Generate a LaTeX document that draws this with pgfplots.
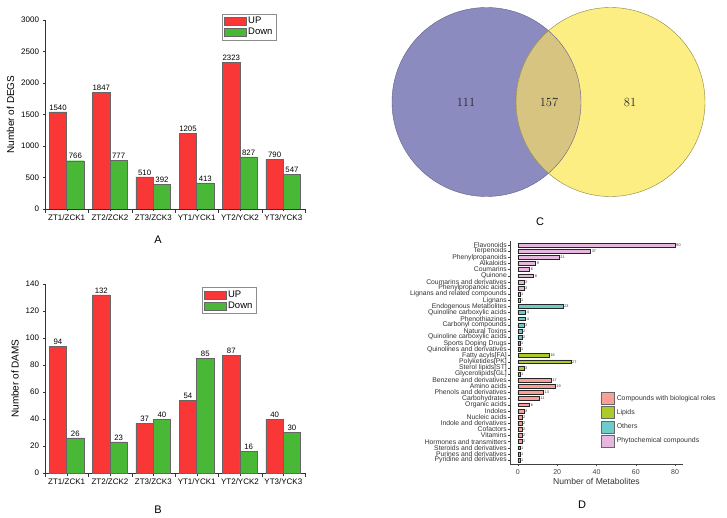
\documentclass[border=0pt]{standalone}
\usepackage{fontspec}
\setsansfont{Liberation Sans}
\renewcommand{\familydefault}{\sfdefault}
\usepackage{pgfplots}
\pgfplotsset{compat=1.18}
\pgfkeys{/pgf/number format/.cd,1000 sep={},assume math mode=true}

\definecolor{upred}{RGB}{250,55,55}
\definecolor{downgreen}{RGB}{72,184,54}
\definecolor{vennL}{RGB}{139,139,192}
\definecolor{vennR}{RGB}{252,238,130}
\definecolor{vennM}{RGB}{214,196,128}
\definecolor{phyto}{RGB}{230,184,224}
\definecolor{others}{RGB}{108,204,202}
\definecolor{lipids}{RGB}{172,202,40}
\definecolor{bio}{RGB}{250,160,150}

% shared look of panels A and B (Origin style)
\pgfplotsset{
  pairbars/.style={
    scale only axis, width=260pt, height=189pt, anchor=south west,
    axis x line*=bottom, axis y line*=left, axis line style={-,black!80},
    xmin=-0.5, xmax=5.5, ymin=0,
    xtick={0,...,5},
    xticklabels={ZT1/ZCK1,ZT2/ZCK2,ZT3/ZCK3,YT1/YCK1,YT2/YCK2,YT3/YCK3},
    extra x ticks={-0.5,0.5,1.5,2.5,3.5,4.5,5.5},
    extra x tick labels={},
    extra x tick style={major tick length=4pt},
    major tick length=2.5pt, tick align=outside, tick style={black!80},
    ticklabel style={font=\fontsize{8}{9}\selectfont},
    ylabel style={font=\fontsize{10}{12}\selectfont},
    ybar, bar width=0.4,
    nodes near coords, point meta=y,
    every node near coord/.append style={font=\fontsize{7.8}{9}\selectfont, inner sep=1.5pt},
    legend cell align=left,
    legend image code/.code={\draw[##1] (0pt,-4pt) rectangle (22pt,4pt);},
    legend style={draw=black!45, font=\fontsize{9.5}{10}\selectfont, inner sep=1.5pt, row sep=-1pt, anchor=north west},
  },
  upbar/.style={fill=upred, draw=black!60, bar shift=-0.2},
  downbar/.style={fill=downgreen, draw=black!60, bar shift=0.2},
  metbar/.style={fill=#1, draw=black!85, line width=0.5pt},
}

\begin{document}
\begin{tikzpicture}
\useasboundingbox (0pt,0pt) rectangle (727pt,517pt);
\fill[white] (0pt,0pt) rectangle (727pt,517pt);

% ---- A
\begin{axis}[pairbars, at={(45pt,308pt)}, ymax=3000, ytick={0,500,...,3000},
  ylabel={Number of DEGS}, legend style={at={(0.681,1.034)}}]
\addplot[upbar] coordinates {(0,1540)(1,1847)(2,510)(3,1205)(4,2323)(5,790)};
\addplot[downbar] coordinates {(0,766)(1,777)(2,392)(3,413)(4,827)(5,547)};
\legend{UP,Down}
\end{axis}

% ---- B
\begin{axis}[pairbars, at={(45pt,44pt)}, ymax=140, ytick={0,20,...,140},
  ylabel={Number of DAMS}, legend style={at={(0.604,0.984)}}]
\addplot[upbar] coordinates {(0,94)(1,132)(2,37)(3,54)(4,87)(5,40)};
\addplot[downbar] coordinates {(0,26)(1,23)(2,40)(3,85)(4,16)(5,30)};
\legend{UP,Down}
\end{axis}

% ---- C (Venn)
\begin{axis}[scale only axis, width=320pt, height=195pt, anchor=south west, at={(390pt,317pt)},
  xmin=390, xmax=710, ymin=317, ymax=512, hide axis, clip=false]
\fill[vennL] (axis cs:486.5,415) circle[radius=94.5pt];
\fill[vennR] (axis cs:610.5,415) circle[radius=94.5pt];
\begin{scope}
\clip (axis cs:486.5,415) circle[radius=94.5pt];
\fill[vennM] (axis cs:610.5,415) circle[radius=94.5pt];
\end{scope}
\draw[vennL!70!black, line width=0.4pt] (axis cs:486.5,415) circle[radius=94.5pt];
\draw[vennR!55!black, line width=0.4pt] (axis cs:610.5,415) circle[radius=94.5pt];
\addplot[draw=none, mark=none, nodes near coords, point meta=explicit symbolic,
  every node near coord/.append style={anchor=center, font=\rmfamily\fontsize{12.5}{14}\selectfont, text=black!85}]
  coordinates {(466,415)[111] (549,415)[157] (630,415)[81]};
\end{axis}

% ---- D
\begin{axis}[scale only axis, width=173pt, height=222.4pt, anchor=south west, at={(510pt,53.3pt)},
  axis x line*=bottom, axis y line*=left, axis line style={-,black!75},
  xmin=-4, xmax=84, ymin=-0.6, ymax=35.6, y dir=reverse,
  xtick={0,20,...,80}, ytick={0,...,35},
  yticklabels={{Flavonoids},{Terpenoids},{Phenylpropanoids},{Alkaloids},{Coumarins},{Quinone},
    {Coumarins and derivatives},{Phenylpropanoic acids},{Lignans and related compounds},{Lignans},
    {Endogenous Metabolites},{Quinoline carboxylic acids},{Phenothiazines},{Carbonyl compounds},
    {Natural Toxins},{Quinoline carboxylic acids},{Sports Doping Drugs},{Quinolines and derivatives},
    {Fatty acyls[FA]},{Polyketides[PK]},{Sterol lipids[ST]},{Glycerolipids[GL]},
    {Benzene and derivatives},{Amino acids},{Phenols and derivatives},{Carbohydrates},{Organic acids},
    {Indoles},{Nucleic acids},{Indole and derivatives},{Cofactors},{Vitamins},
    {Hormones and transmitters},{Steroids and derivatives},{Purines and derivatives},{Pyridine and derivatives}},
  tick align=outside, major tick length=2pt, tick style={black!75},
  yticklabel style={font=\fontsize{6.8}{6.8}\selectfont, inner sep=1pt, text=black!80},
  xticklabel style={font=\fontsize{7}{8}\selectfont, text=black!75},
  xlabel={Number of Metabolites}, xlabel style={font=\fontsize{8.6}{10}\selectfont, text=black!80, yshift=3pt},
  xbar, bar width=0.62,
  nodes near coords, point meta=x,
  every node near coord/.append style={font=\fontsize{3.8}{4}\selectfont, inner sep=1pt, text=black!80},
  legend cell align=left,
  legend image code/.code={\draw[#1, draw=black!60] (0pt,-6pt) rectangle (13pt,6pt);},
  legend style={at={(0.509,0.331)}, anchor=north west, draw=none, fill=none,
    font=\fontsize{6.9}{8}\selectfont, row sep=1.7pt, text=black!80},
]
\addplot[metbar=bio, bar shift=0pt] coordinates {(17,22)(19,23)(13,24)(11,25)(6,26)(3,27)(2,28)(2,29)(2,30)(2,31)(2,32)(1,33)(1,34)(1,35)};
\addplot[metbar=lipids, bar shift=0pt] coordinates {(16,18)(27,19)(3,20)(1,21)};
\addplot[metbar=others, bar shift=0pt] coordinates {(23,10)(4,11)(4,12)(3,13)(2,14)(2,15)(1,16)(1,17)};
\addplot[metbar=phyto, bar shift=0pt] coordinates {(80,0)(37,1)(21,2)(9,3)(6,4)(8,5)(3,6)(3,7)(1,8)(1,9)};
\legend{Compounds with biological roles,Lipids,Others,Phytochemical compounds}
\end{axis}

% panel letters
\node[font=\fontsize{11}{12}\selectfont] at (158pt,277pt) {A};
\node[font=\fontsize{11}{12}\selectfont] at (158pt,7pt) {B};
\node[font=\fontsize{11}{12}\selectfont] at (540pt,295pt) {C};
\node[font=\fontsize{11}{12}\selectfont] at (582pt,12pt) {D};
\end{tikzpicture}
\end{document}
